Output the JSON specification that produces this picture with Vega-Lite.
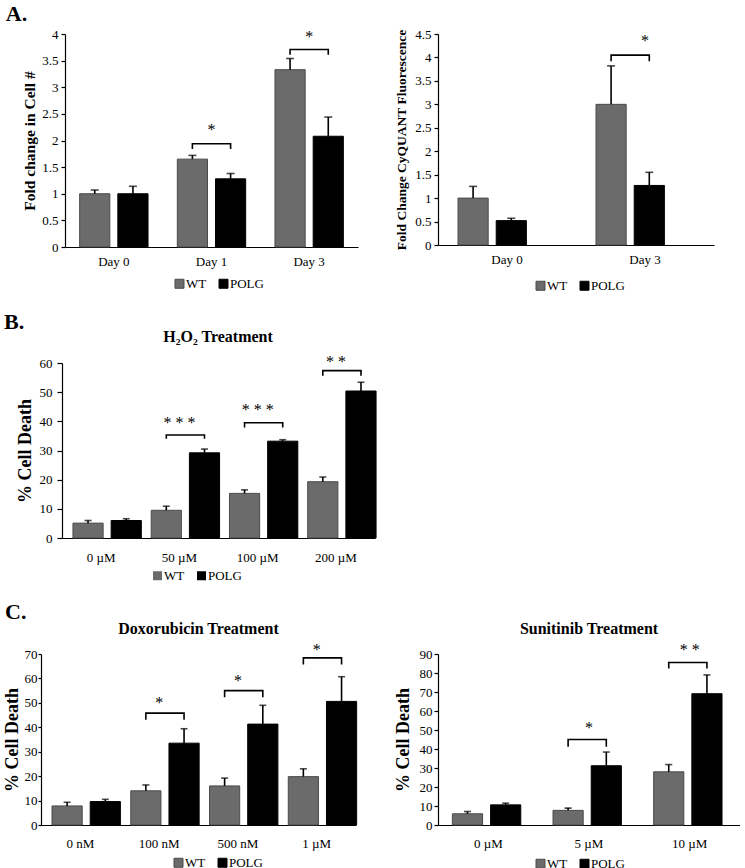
{
  "$schema": "https://vega.github.io/schema/vega-lite/v6.json",
  "padding": {"left": 3, "top": 3, "right": 0, "bottom": 0},
  "background": "#ffffff",
  "config": {
    "font": "Liberation Serif",
    "view": {"stroke": null},
    "axis": {"domainColor": "#000000", "domainWidth": 1.2, "tickColor": "#000000", "tickWidth": 1.2, "labelColor": "#000000", "labelFontSize": 13, "labelFont": "Liberation Serif", "titleFont": "Liberation Serif", "titleColor": "#000000", "titleFontWeight": "bold", "grid": false, "labelOverlap": false},
    "axisX": {"ticks": false, "labelAngle": 0, "labelPadding": 8},
    "axisY": {"tickSize": 4},
    "bar": {"strokeWidth": 1},
    "legend": {"direction": "horizontal", "symbolType": "square", "symbolSize": 81, "labelFontSize": 13, "labelFont": "Liberation Serif", "labelColor": "#000000", "columnPadding": 10, "labelOffset": 0, "padding": 0, "symbolStrokeWidth": 0},
    "title": {"font": "Liberation Serif", "fontWeight": "bold", "color": "#000000"}
  },
  "datasets": {
    "a1": [
      {"cat": "Day 0", "group": "WT", "value": 1.0, "upper": 1.07},
      {"cat": "Day 0", "group": "POLG", "value": 1.0, "upper": 1.14},
      {"cat": "Day 1", "group": "WT", "value": 1.65, "upper": 1.72},
      {"cat": "Day 1", "group": "POLG", "value": 1.28, "upper": 1.38},
      {"cat": "Day 3", "group": "WT", "value": 3.33, "upper": 3.54},
      {"cat": "Day 3", "group": "POLG", "value": 2.08, "upper": 2.44}
    ],
    "a1br": [
      {"cat": "Day 1", "group": "WT", "y": 1.84, "id": "d1", "o": 1},
      {"cat": "Day 1", "group": "WT", "y": 1.94, "id": "d1", "o": 2},
      {"cat": "Day 1", "group": "POLG", "y": 1.94, "id": "d1", "o": 3},
      {"cat": "Day 1", "group": "POLG", "y": 1.84, "id": "d1", "o": 4},
      {"cat": "Day 3", "group": "WT", "y": 3.61, "id": "d3", "o": 1},
      {"cat": "Day 3", "group": "WT", "y": 3.71, "id": "d3", "o": 2},
      {"cat": "Day 3", "group": "POLG", "y": 3.71, "id": "d3", "o": 3},
      {"cat": "Day 3", "group": "POLG", "y": 3.61, "id": "d3", "o": 4}
    ],
    "a1st": [
      {"cat": "Day 1", "label": "*", "y": 2.2},
      {"cat": "Day 3", "label": "*", "y": 3.95}
    ],
    "a2": [
      {"cat": "Day 0", "group": "WT", "value": 1.0, "upper": 1.25},
      {"cat": "Day 0", "group": "POLG", "value": 0.52, "upper": 0.57},
      {"cat": "Day 3", "group": "WT", "value": 3.0, "upper": 3.82},
      {"cat": "Day 3", "group": "POLG", "value": 1.27, "upper": 1.55}
    ],
    "a2br": [
      {"cat": "Day 3", "group": "WT", "y": 3.92, "id": "d3", "o": 1},
      {"cat": "Day 3", "group": "WT", "y": 4.05, "id": "d3", "o": 2},
      {"cat": "Day 3", "group": "POLG", "y": 4.05, "id": "d3", "o": 3},
      {"cat": "Day 3", "group": "POLG", "y": 3.92, "id": "d3", "o": 4}
    ],
    "a2st": [
      {"cat": "Day 3", "label": "*", "y": 4.36}
    ],
    "b": [
      {"cat": "0 µM", "group": "WT", "value": 5.1, "upper": 6.0},
      {"cat": "0 µM", "group": "POLG", "value": 6.0, "upper": 6.6},
      {"cat": "50 µM", "group": "WT", "value": 9.5, "upper": 10.9},
      {"cat": "50 µM", "group": "POLG", "value": 29.2, "upper": 30.5},
      {"cat": "100 µM", "group": "WT", "value": 15.3, "upper": 16.5},
      {"cat": "100 µM", "group": "POLG", "value": 33.2, "upper": 33.7},
      {"cat": "200 µM", "group": "WT", "value": 19.3, "upper": 20.9},
      {"cat": "200 µM", "group": "POLG", "value": 50.4, "upper": 53.4}
    ],
    "bbr": [
      {"cat": "50 µM", "group": "WT", "y": 34.0, "id": "b50", "o": 1},
      {"cat": "50 µM", "group": "WT", "y": 35.3, "id": "b50", "o": 2},
      {"cat": "50 µM", "group": "POLG", "y": 35.3, "id": "b50", "o": 3},
      {"cat": "50 µM", "group": "POLG", "y": 34.0, "id": "b50", "o": 4},
      {"cat": "100 µM", "group": "WT", "y": 37.9, "id": "b100", "o": 1},
      {"cat": "100 µM", "group": "WT", "y": 39.5, "id": "b100", "o": 2},
      {"cat": "100 µM", "group": "POLG", "y": 39.5, "id": "b100", "o": 3},
      {"cat": "100 µM", "group": "POLG", "y": 37.9, "id": "b100", "o": 4},
      {"cat": "200 µM", "group": "WT", "y": 55.6, "id": "b200", "o": 1},
      {"cat": "200 µM", "group": "WT", "y": 57.4, "id": "b200", "o": 2},
      {"cat": "200 µM", "group": "POLG", "y": 57.4, "id": "b200", "o": 3},
      {"cat": "200 µM", "group": "POLG", "y": 55.6, "id": "b200", "o": 4}
    ],
    "bst": [
      {"cat": "50 µM", "label": "* * *", "y": 39.5},
      {"cat": "100 µM", "label": "* * *", "y": 44.0},
      {"cat": "200 µM", "label": "* *", "y": 60.4}
    ],
    "c1": [
      {"cat": "0 nM", "group": "WT", "value": 7.8, "upper": 9.3},
      {"cat": "0 nM", "group": "POLG", "value": 9.6, "upper": 10.5},
      {"cat": "100 nM", "group": "WT", "value": 14.0, "upper": 16.4},
      {"cat": "100 nM", "group": "POLG", "value": 33.5, "upper": 39.4},
      {"cat": "500 nM", "group": "WT", "value": 16.0, "upper": 19.2},
      {"cat": "500 nM", "group": "POLG", "value": 41.3, "upper": 49.0},
      {"cat": "1 µM", "group": "WT", "value": 19.8, "upper": 23.0},
      {"cat": "1 µM", "group": "POLG", "value": 50.6, "upper": 60.7}
    ],
    "c1br": [
      {"cat": "100 nM", "group": "WT", "y": 43.1, "id": "c100", "o": 1},
      {"cat": "100 nM", "group": "WT", "y": 45.8, "id": "c100", "o": 2},
      {"cat": "100 nM", "group": "POLG", "y": 45.8, "id": "c100", "o": 3},
      {"cat": "100 nM", "group": "POLG", "y": 43.1, "id": "c100", "o": 4},
      {"cat": "500 nM", "group": "WT", "y": 52.3, "id": "c500", "o": 1},
      {"cat": "500 nM", "group": "WT", "y": 55.0, "id": "c500", "o": 2},
      {"cat": "500 nM", "group": "POLG", "y": 55.0, "id": "c500", "o": 3},
      {"cat": "500 nM", "group": "POLG", "y": 52.3, "id": "c500", "o": 4},
      {"cat": "1 µM", "group": "WT", "y": 65.7, "id": "c1u", "o": 1},
      {"cat": "1 µM", "group": "WT", "y": 68.4, "id": "c1u", "o": 2},
      {"cat": "1 µM", "group": "POLG", "y": 68.4, "id": "c1u", "o": 3},
      {"cat": "1 µM", "group": "POLG", "y": 65.7, "id": "c1u", "o": 4}
    ],
    "c1st": [
      {"cat": "100 nM", "label": "*", "y": 49.9},
      {"cat": "500 nM", "label": "*", "y": 58.8},
      {"cat": "1 µM", "label": "*", "y": 71.8}
    ],
    "c2": [
      {"cat": "0 µM", "group": "WT", "value": 5.9, "upper": 7.1},
      {"cat": "0 µM", "group": "POLG", "value": 10.6, "upper": 11.5},
      {"cat": "5 µM", "group": "WT", "value": 7.7, "upper": 8.9},
      {"cat": "5 µM", "group": "POLG", "value": 31.2, "upper": 38.4},
      {"cat": "10 µM", "group": "WT", "value": 28.0, "upper": 31.8},
      {"cat": "10 µM", "group": "POLG", "value": 69.1, "upper": 79.0}
    ],
    "c2br": [
      {"cat": "5 µM", "group": "WT", "y": 41.2, "id": "s5", "o": 1},
      {"cat": "5 µM", "group": "WT", "y": 45.0, "id": "s5", "o": 2},
      {"cat": "5 µM", "group": "POLG", "y": 45.0, "id": "s5", "o": 3},
      {"cat": "5 µM", "group": "POLG", "y": 41.2, "id": "s5", "o": 4},
      {"cat": "10 µM", "group": "WT", "y": 82.4, "id": "s10", "o": 1},
      {"cat": "10 µM", "group": "WT", "y": 85.5, "id": "s10", "o": 2},
      {"cat": "10 µM", "group": "POLG", "y": 85.5, "id": "s10", "o": 3},
      {"cat": "10 µM", "group": "POLG", "y": 82.4, "id": "s10", "o": 4}
    ],
    "c2st": [
      {"cat": "5 µM", "label": "*", "y": 51.1},
      {"cat": "10 µM", "label": "* *", "y": 92.2}
    ]
  },
  "spacing": 17,
  "resolve": {"scale": {"color": "independent"}},
  "vconcat": [
    {
      "title": {"text": "A.", "anchor": "start", "frame": "bounds", "fontSize": 22, "dx": -17, "offset": 2},
      "bounds": "flush",
      "spacing": 80,
      "resolve": {"scale": {"color": "independent", "stroke": "independent"}},
      "hconcat": [
        {
          "width": 293, "height": 213,
          "layer": [
            {"data": {"name": "a1"}, "mark": {"type": "bar"},
             "encoding": {
               "x": {"field": "cat", "type": "nominal", "scale": {"domain": ["Day 0", "Day 1", "Day 3"], "paddingInner": 0.3, "paddingOuter": 0.15}, "axis": {"title": null}},
               "xOffset": {"field": "group", "type": "nominal", "scale": {"domain": ["WT", "POLG"], "paddingInner": 0.21, "paddingOuter": 0}},
               "y": {"field": "value", "type": "quantitative", "scale": {"domain": [0, 4], "nice": false}, "axis": {"title": "Fold change in Cell #", "values": [0, 0.5, 1, 1.5, 2, 2.5, 3, 3.5, 4], "format": "~g", "titleFontSize": 15.5, "labelPadding": 3, "titlePadding": 4}},
               "color": {"field": "group", "type": "nominal", "scale": {"domain": ["WT", "POLG"], "range": ["#6b6b6b", "#000000"]}, "legend": {"title": null, "orient": "none", "legendX": 108, "legendY": 243}},
               "stroke": {"field": "group", "type": "nominal", "scale": {"domain": ["WT", "POLG"], "range": ["#4a4a4a", "#000000"]}, "legend": null}
             }},
            {"data": {"name": "a1"}, "mark": {"type": "rule", "color": "#000000", "strokeWidth": 1.6},
             "encoding": {"x": {"field": "cat", "type": "nominal", "axis": {"title": null}}, "xOffset": {"field": "group", "type": "nominal"}, "y": {"field": "value", "type": "quantitative", "axis": {"title": "Fold change in Cell #", "values": [0, 0.5, 1, 1.5, 2, 2.5, 3, 3.5, 4], "format": "~g", "titleFontSize": 15.5, "labelPadding": 3, "titlePadding": 4}}, "y2": {"field": "upper"}}},
            {"data": {"name": "a1"}, "mark": {"type": "tick", "color": "#000000", "thickness": 1.6, "size": 8},
             "encoding": {"x": {"field": "cat", "type": "nominal", "axis": {"title": null}}, "xOffset": {"field": "group", "type": "nominal"}, "y": {"field": "upper", "type": "quantitative", "axis": {"title": "Fold change in Cell #", "values": [0, 0.5, 1, 1.5, 2, 2.5, 3, 3.5, 4], "format": "~g", "titleFontSize": 15.5, "labelPadding": 3, "titlePadding": 4}}}},
            {"data": {"name": "a1br"}, "mark": {"type": "line", "color": "#000000", "strokeWidth": 1.6, "clip": false},
             "encoding": {"x": {"field": "cat", "type": "nominal", "axis": {"title": null}}, "xOffset": {"field": "group", "type": "nominal"}, "y": {"field": "y", "type": "quantitative", "axis": {"title": "Fold change in Cell #", "values": [0, 0.5, 1, 1.5, 2, 2.5, 3, 3.5, 4], "format": "~g", "titleFontSize": 15.5, "labelPadding": 3, "titlePadding": 4}}, "detail": {"field": "id", "type": "nominal"}, "order": {"field": "o", "type": "quantitative"}}},
            {"data": {"name": "a1st"}, "mark": {"type": "text", "fontSize": 16, "baseline": "middle", "clip": false, "color": "#000000"},
             "encoding": {"x": {"field": "cat", "type": "nominal", "axis": {"title": null}}, "y": {"field": "y", "type": "quantitative", "axis": {"title": "Fold change in Cell #", "values": [0, 0.5, 1, 1.5, 2, 2.5, 3, 3.5, 4], "format": "~g", "titleFontSize": 15.5, "labelPadding": 3, "titlePadding": 4}}, "text": {"field": "label"}}}
          ]
        },
        {
          "width": 276, "height": 211,
          "layer": [
            {"data": {"name": "a2"}, "mark": {"type": "bar"},
             "encoding": {
               "x": {"field": "cat", "type": "nominal", "scale": {"domain": ["Day 0", "Day 3"], "paddingInner": 0.29, "paddingOuter": 0.145}, "axis": {"title": null}},
               "xOffset": {"field": "group", "type": "nominal", "scale": {"domain": ["WT", "POLG"], "paddingInner": 0.185, "paddingOuter": 0}},
               "y": {"field": "value", "type": "quantitative", "scale": {"domain": [0, 4.5], "nice": false}, "axis": {"title": "Fold Change CyQUANT Fluorescence", "values": [0, 0.5, 1, 1.5, 2, 2.5, 3, 3.5, 4, 4.5], "format": "~g", "titleFontSize": 13.5, "labelPadding": 3, "titlePadding": 6}},
               "color": {"field": "group", "type": "nominal", "scale": {"domain": ["WT", "POLG"], "range": ["#6b6b6b", "#000000"]}, "legend": {"title": null, "orient": "none", "legendX": 96, "legendY": 245}},
               "stroke": {"field": "group", "type": "nominal", "scale": {"domain": ["WT", "POLG"], "range": ["#4a4a4a", "#000000"]}, "legend": null}
             }},
            {"data": {"name": "a2"}, "mark": {"type": "rule", "color": "#000000", "strokeWidth": 1.6},
             "encoding": {"x": {"field": "cat", "type": "nominal", "axis": {"title": null}}, "xOffset": {"field": "group", "type": "nominal"}, "y": {"field": "value", "type": "quantitative", "axis": {"title": "Fold Change CyQUANT Fluorescence", "values": [0, 0.5, 1, 1.5, 2, 2.5, 3, 3.5, 4, 4.5], "format": "~g", "titleFontSize": 13.5, "labelPadding": 3, "titlePadding": 6}}, "y2": {"field": "upper"}}},
            {"data": {"name": "a2"}, "mark": {"type": "tick", "color": "#000000", "thickness": 1.6, "size": 8},
             "encoding": {"x": {"field": "cat", "type": "nominal", "axis": {"title": null}}, "xOffset": {"field": "group", "type": "nominal"}, "y": {"field": "upper", "type": "quantitative", "axis": {"title": "Fold Change CyQUANT Fluorescence", "values": [0, 0.5, 1, 1.5, 2, 2.5, 3, 3.5, 4, 4.5], "format": "~g", "titleFontSize": 13.5, "labelPadding": 3, "titlePadding": 6}}}},
            {"data": {"name": "a2br"}, "mark": {"type": "line", "color": "#000000", "strokeWidth": 1.6, "clip": false},
             "encoding": {"x": {"field": "cat", "type": "nominal", "axis": {"title": null}}, "xOffset": {"field": "group", "type": "nominal"}, "y": {"field": "y", "type": "quantitative", "axis": {"title": "Fold Change CyQUANT Fluorescence", "values": [0, 0.5, 1, 1.5, 2, 2.5, 3, 3.5, 4, 4.5], "format": "~g", "titleFontSize": 13.5, "labelPadding": 3, "titlePadding": 6}}, "detail": {"field": "id", "type": "nominal"}, "order": {"field": "o", "type": "quantitative"}}},
            {"data": {"name": "a2st"}, "mark": {"type": "text", "fontSize": 16, "baseline": "middle", "clip": false, "color": "#000000"},
             "encoding": {"x": {"field": "cat", "type": "nominal", "axis": {"title": null}}, "y": {"field": "y", "type": "quantitative", "axis": {"title": "Fold Change CyQUANT Fluorescence", "values": [0, 0.5, 1, 1.5, 2, 2.5, 3, 3.5, 4, 4.5], "format": "~g", "titleFontSize": 13.5, "labelPadding": 3, "titlePadding": 6}}, "text": {"field": "label"}}}
          ]
        }
      ]
    },
    {
      "title": {"text": "B.", "anchor": "start", "frame": "bounds", "fontSize": 22, "dx": -12, "offset": -5},
      "vconcat": [
        {
          "title": {"text": "H₂O₂ Treatment", "anchor": "middle", "frame": "group", "fontSize": 16, "offset": 9, "dx": -2},
          "width": 310, "height": 175,
          "layer": [
            {"data": {"name": "b"}, "mark": {"type": "bar"},
             "encoding": {
               "x": {"field": "cat", "type": "nominal", "scale": {"domain": ["0 µM", "50 µM", "100 µM", "200 µM"], "range": [-3, 310], "paddingInner": 0.28, "paddingOuter": 0.14}, "axis": {"title": null, "labelPadding": 13}},
               "xOffset": {"field": "group", "type": "nominal", "scale": {"domain": ["WT", "POLG"], "paddingInner": 0.19, "paddingOuter": 0}},
               "y": {"field": "value", "type": "quantitative", "scale": {"domain": [0, 60], "nice": false}, "axis": {"title": "% Cell Death", "values": [0, 10, 20, 30, 40, 50, 60], "titleFontSize": 18, "tickSize": 5, "labelPadding": 5, "titlePadding": 5, "offset": 3}},
               "color": {"field": "group", "type": "nominal", "scale": {"domain": ["WT", "POLG"], "range": ["#6b6b6b", "#000000"]}, "legend": {"title": null, "orient": "none", "legendX": 86, "legendY": 206}},
               "stroke": {"field": "group", "type": "nominal", "scale": {"domain": ["WT", "POLG"], "range": ["#4a4a4a", "#000000"]}, "legend": null}
             }},
            {"data": {"name": "b"}, "mark": {"type": "rule", "color": "#000000", "strokeWidth": 1.6},
             "encoding": {"x": {"field": "cat", "type": "nominal", "axis": {"title": null, "labelPadding": 13}}, "xOffset": {"field": "group", "type": "nominal"}, "y": {"field": "value", "type": "quantitative", "axis": {"title": "% Cell Death", "values": [0, 10, 20, 30, 40, 50, 60], "titleFontSize": 18, "tickSize": 5, "labelPadding": 5, "titlePadding": 5, "offset": 3}}, "y2": {"field": "upper"}}},
            {"data": {"name": "b"}, "mark": {"type": "tick", "color": "#000000", "thickness": 1.6, "size": 7},
             "encoding": {"x": {"field": "cat", "type": "nominal", "axis": {"title": null, "labelPadding": 13}}, "xOffset": {"field": "group", "type": "nominal"}, "y": {"field": "upper", "type": "quantitative", "axis": {"title": "% Cell Death", "values": [0, 10, 20, 30, 40, 50, 60], "titleFontSize": 18, "tickSize": 5, "labelPadding": 5, "titlePadding": 5, "offset": 3}}}},
            {"data": {"name": "bbr"}, "mark": {"type": "line", "color": "#000000", "strokeWidth": 1.6, "clip": false},
             "encoding": {"x": {"field": "cat", "type": "nominal", "axis": {"title": null, "labelPadding": 13}}, "xOffset": {"field": "group", "type": "nominal"}, "y": {"field": "y", "type": "quantitative", "axis": {"title": "% Cell Death", "values": [0, 10, 20, 30, 40, 50, 60], "titleFontSize": 18, "tickSize": 5, "labelPadding": 5, "titlePadding": 5, "offset": 3}}, "detail": {"field": "id", "type": "nominal"}, "order": {"field": "o", "type": "quantitative"}}},
            {"data": {"name": "bst"}, "mark": {"type": "text", "fontSize": 16, "baseline": "middle", "clip": false, "color": "#000000"},
             "encoding": {"x": {"field": "cat", "type": "nominal", "axis": {"title": null, "labelPadding": 13}}, "y": {"field": "y", "type": "quantitative", "axis": {"title": "% Cell Death", "values": [0, 10, 20, 30, 40, 50, 60], "titleFontSize": 18, "tickSize": 5, "labelPadding": 5, "titlePadding": 5, "offset": 3}}, "text": {"field": "label"}}}
          ]
        }
      ]
    },
    {
      "title": {"text": "C.", "anchor": "start", "frame": "bounds", "fontSize": 22, "dx": 2, "offset": -3},
      "bounds": "flush",
      "spacing": 82,
      "resolve": {"scale": {"color": "independent", "stroke": "independent"}},
      "hconcat": [
        {
          "title": {"text": "Doxorubicin Treatment", "anchor": "middle", "frame": "group", "fontSize": 16, "offset": 5, "dx": -12},
          "width": 291, "height": 171,
          "layer": [
            {"data": {"name": "c1"}, "mark": {"type": "bar"},
             "encoding": {
               "x": {"field": "cat", "type": "nominal", "scale": {"domain": ["0 nM", "100 nM", "500 nM", "1 µM"], "range": [-24, 291], "paddingInner": 0.28, "paddingOuter": 0.14}, "axis": {"title": null, "labelPadding": 12}},
               "xOffset": {"field": "group", "type": "nominal", "scale": {"domain": ["WT", "POLG"], "paddingInner": 0.22, "paddingOuter": 0}},
               "y": {"field": "value", "type": "quantitative", "scale": {"domain": [0, 70], "nice": false}, "axis": {"title": "% Cell Death", "values": [0, 10, 20, 30, 40, 50, 60, 70], "titleFontSize": 18, "tickSize": 3, "labelPadding": 1, "titlePadding": 3, "offset": 24}},
               "color": {"field": "group", "type": "nominal", "scale": {"domain": ["WT", "POLG"], "range": ["#6b6b6b", "#000000"]}, "legend": {"title": null, "orient": "none", "legendX": 107, "legendY": 202}},
               "stroke": {"field": "group", "type": "nominal", "scale": {"domain": ["WT", "POLG"], "range": ["#4a4a4a", "#000000"]}, "legend": null}
             }},
            {"data": {"name": "c1"}, "mark": {"type": "rule", "color": "#000000", "strokeWidth": 1.6},
             "encoding": {"x": {"field": "cat", "type": "nominal", "axis": {"title": null, "labelPadding": 12}}, "xOffset": {"field": "group", "type": "nominal"}, "y": {"field": "value", "type": "quantitative", "axis": {"title": "% Cell Death", "values": [0, 10, 20, 30, 40, 50, 60, 70], "titleFontSize": 18, "tickSize": 3, "labelPadding": 1, "titlePadding": 3, "offset": 24}}, "y2": {"field": "upper"}}},
            {"data": {"name": "c1"}, "mark": {"type": "tick", "color": "#000000", "thickness": 1.6, "size": 7},
             "encoding": {"x": {"field": "cat", "type": "nominal", "axis": {"title": null, "labelPadding": 12}}, "xOffset": {"field": "group", "type": "nominal"}, "y": {"field": "upper", "type": "quantitative", "axis": {"title": "% Cell Death", "values": [0, 10, 20, 30, 40, 50, 60, 70], "titleFontSize": 18, "tickSize": 3, "labelPadding": 1, "titlePadding": 3, "offset": 24}}}},
            {"data": {"name": "c1br"}, "mark": {"type": "line", "color": "#000000", "strokeWidth": 1.6, "clip": false},
             "encoding": {"x": {"field": "cat", "type": "nominal", "axis": {"title": null, "labelPadding": 12}}, "xOffset": {"field": "group", "type": "nominal"}, "y": {"field": "y", "type": "quantitative", "axis": {"title": "% Cell Death", "values": [0, 10, 20, 30, 40, 50, 60, 70], "titleFontSize": 18, "tickSize": 3, "labelPadding": 1, "titlePadding": 3, "offset": 24}}, "detail": {"field": "id", "type": "nominal"}, "order": {"field": "o", "type": "quantitative"}}},
            {"data": {"name": "c1st"}, "mark": {"type": "text", "fontSize": 16, "baseline": "middle", "clip": false, "color": "#000000"},
             "encoding": {"x": {"field": "cat", "type": "nominal", "axis": {"title": null, "labelPadding": 12}}, "y": {"field": "y", "type": "quantitative", "axis": {"title": "% Cell Death", "values": [0, 10, 20, 30, 40, 50, 60, 70], "titleFontSize": 18, "tickSize": 3, "labelPadding": 1, "titlePadding": 3, "offset": 24}}, "text": {"field": "label"}}}
          ]
        },
        {
          "title": {"text": "Sunitinib Treatment", "anchor": "middle", "frame": "group", "fontSize": 16, "offset": 5},
          "width": 302, "height": 171,
          "layer": [
            {"data": {"name": "c2"}, "mark": {"type": "bar"},
             "encoding": {
               "x": {"field": "cat", "type": "nominal", "scale": {"domain": ["0 µM", "5 µM", "10 µM"], "paddingInner": 0.285, "paddingOuter": 0.143}, "axis": {"title": null, "labelPadding": 12}},
               "xOffset": {"field": "group", "type": "nominal", "scale": {"domain": ["WT", "POLG"], "paddingInner": 0.18, "paddingOuter": 0}},
               "y": {"field": "value", "type": "quantitative", "scale": {"domain": [0, 90], "nice": false}, "axis": {"title": "% Cell Death", "values": [0, 10, 20, 30, 40, 50, 60, 70, 80, 90], "titleFontSize": 18, "tickSize": 4, "labelPadding": 2, "titlePadding": 7}},
               "color": {"field": "group", "type": "nominal", "scale": {"domain": ["WT", "POLG"], "range": ["#6b6b6b", "#000000"]}, "legend": {"title": null, "orient": "none", "legendX": 96, "legendY": 203}},
               "stroke": {"field": "group", "type": "nominal", "scale": {"domain": ["WT", "POLG"], "range": ["#4a4a4a", "#000000"]}, "legend": null}
             }},
            {"data": {"name": "c2"}, "mark": {"type": "rule", "color": "#000000", "strokeWidth": 1.6},
             "encoding": {"x": {"field": "cat", "type": "nominal", "axis": {"title": null, "labelPadding": 12}}, "xOffset": {"field": "group", "type": "nominal"}, "y": {"field": "value", "type": "quantitative", "axis": {"title": "% Cell Death", "values": [0, 10, 20, 30, 40, 50, 60, 70, 80, 90], "titleFontSize": 18, "tickSize": 4, "labelPadding": 2, "titlePadding": 7}}, "y2": {"field": "upper"}}},
            {"data": {"name": "c2"}, "mark": {"type": "tick", "color": "#000000", "thickness": 1.6, "size": 7},
             "encoding": {"x": {"field": "cat", "type": "nominal", "axis": {"title": null, "labelPadding": 12}}, "xOffset": {"field": "group", "type": "nominal"}, "y": {"field": "upper", "type": "quantitative", "axis": {"title": "% Cell Death", "values": [0, 10, 20, 30, 40, 50, 60, 70, 80, 90], "titleFontSize": 18, "tickSize": 4, "labelPadding": 2, "titlePadding": 7}}}},
            {"data": {"name": "c2br"}, "mark": {"type": "line", "color": "#000000", "strokeWidth": 1.6, "clip": false},
             "encoding": {"x": {"field": "cat", "type": "nominal", "axis": {"title": null, "labelPadding": 12}}, "xOffset": {"field": "group", "type": "nominal"}, "y": {"field": "y", "type": "quantitative", "axis": {"title": "% Cell Death", "values": [0, 10, 20, 30, 40, 50, 60, 70, 80, 90], "titleFontSize": 18, "tickSize": 4, "labelPadding": 2, "titlePadding": 7}}, "detail": {"field": "id", "type": "nominal"}, "order": {"field": "o", "type": "quantitative"}}},
            {"data": {"name": "c2st"}, "mark": {"type": "text", "fontSize": 16, "baseline": "middle", "clip": false, "color": "#000000"},
             "encoding": {"x": {"field": "cat", "type": "nominal", "axis": {"title": null, "labelPadding": 12}}, "y": {"field": "y", "type": "quantitative", "axis": {"title": "% Cell Death", "values": [0, 10, 20, 30, 40, 50, 60, 70, 80, 90], "titleFontSize": 18, "tickSize": 4, "labelPadding": 2, "titlePadding": 7}}, "text": {"field": "label"}}}
          ]
        }
      ]
    }
  ]
}
